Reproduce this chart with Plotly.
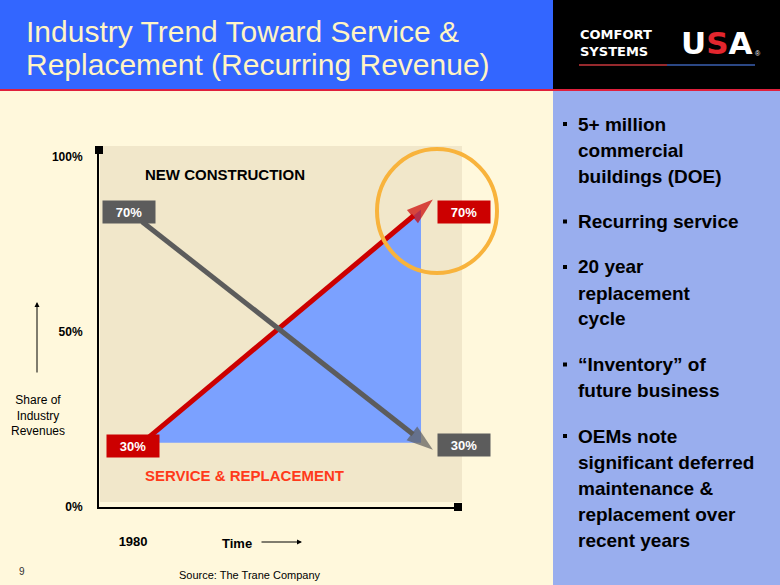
import plotly.graph_objects as go

W, H = 780, 585

# schematic time axis (arbitrary units); shares
time = [1.2, 9.3]
service_share = [18.3, 87.7]
construction_share = [81.4, 16.3]
service_area_x = [1.2, 8.97, 8.97]
service_area_y = [18.3, 84.9, 18.3]

# figures printed in the boxes
service_labels = ["30%", "70%"]
construction_labels = ["70%", "30%"]

y_ticks = [0, 50, 100]
y_tick_text = ["0%", "50%", "100%"]
x_ticks = [1.2]
x_tick_text = ["1980"]

bullets = [
    ["5+ million", "commercial", "buildings (DOE)"],
    ["Recurring service"],
    ["20 year", "replacement", "cycle"],
    ["\u201cInventory\u201d of", "future business"],
    ["OEMs note", "significant deferred", "maintenance &", "replacement over", "recent years"],
]

FONT = "Liberation Sans, Arial, sans-serif"
RED = "#CC0000"
GREY = "#5C5C5C"


def px(x):
    return x / W


def py(y):
    return 1 - y / H


fig = go.Figure()
fig.add_trace(go.Scatter(x=service_area_x + service_area_x[:1], y=service_area_y + service_area_y[:1],
                         mode="lines", fill="toself", fillcolor="#7BA1FF", line=dict(width=0),
                         hoverinfo="skip"))
fig.add_trace(go.Scatter(x=time, y=service_share, mode="lines+markers",
                         line=dict(color=RED, width=5),
                         marker=dict(symbol="arrow", size=[0, 28], angleref="previous", color=RED,
                                     line_width=0)))
fig.add_trace(go.Scatter(x=time, y=construction_share, mode="lines+markers",
                         line=dict(color=GREY, width=5),
                         marker=dict(symbol="arrow", size=[0, 28], angleref="previous", color=GREY,
                                     line_width=0)))

shapes = [
    # title bar, logo block, red rule, right panel, chart background
    dict(type="rect", x0=0, x1=px(553), y0=py(89), y1=1, fillcolor="#3366FF", line_width=0, layer="below"),
    dict(type="rect", x0=px(553), x1=1, y0=py(89), y1=1, fillcolor="black", line_width=0, layer="below"),
    dict(type="rect", x0=px(553), x1=1, y0=0, y1=py(91), fillcolor="#99AEEE", line_width=0, layer="below"),
    dict(type="line", x0=0, x1=1, y0=py(90), y1=py(90), line=dict(color="#E0203C", width=2), layer="below"),
    dict(type="rect", x0=px(100), x1=px(462), y0=py(502), y1=py(146), fillcolor="#F1E7CA", line_width=0,
         layer="below"),
    # axis end squares
    dict(type="rect", x0=px(95), x1=px(103), y0=py(154), y1=py(146), fillcolor="black", line_width=0),
    dict(type="rect", x0=px(454), x1=px(462), y0=py(511), y1=py(503), fillcolor="black", line_width=0),
    # highlight circle
    dict(type="circle", x0=px(377), x1=px(497), y0=py(273), y1=py(149), line=dict(color="#F8B33C", width=4)),
    # logo rule
    dict(type="line", x0=px(579), x1=px(667), y0=py(65), y1=py(65), line=dict(color="#C8373C", width=1.5)),
    dict(type="line", x0=px(667), x1=px(755), y0=py(65), y1=py(65), line=dict(color="#3A5FB0", width=1.5)),
]

ann = [
    dict(x=px(24), y=py(31), text="Industry Trend Toward Service &", xanchor="left", yanchor="middle",
         font=dict(size=30, color="#FFF4C4")),
    dict(x=px(24), y=py(64), text="Replacement (Recurring Revenue)", xanchor="left", yanchor="middle",
         font=dict(size=30, color="#FFF4C4")),
    dict(x=px(578), y=py(43), text="COMFORT<br>SYSTEMS", xanchor="left", yanchor="middle", align="left",
         font=dict(family="DejaVu Sans", size=13, weight="bold", color="white")),
    dict(x=px(717), y=py(43), text="U<span style='color:#E3262E'>S</span>A", xanchor="center", yanchor="middle",
         font=dict(family="DejaVu Sans", size=31, weight="bold", color="white")),
    dict(x=px(758), y=py(53), text="\u00ae", xanchor="center", yanchor="middle",
         font=dict(size=7, color="white")),
    dict(x=px(143), y=py(174), text="NEW CONSTRUCTION", xanchor="left", yanchor="middle",
         font=dict(size=15, weight="bold", color="black")),
    dict(x=px(143), y=py(475), text="SERVICE & REPLACEMENT", xanchor="left", yanchor="middle",
         font=dict(size=15, weight="bold", color="#FF3A1A")),
    dict(x=px(38), y=py(415), text="Share of<br>Industry<br>Revenues", xanchor="center", yanchor="middle",
         font=dict(size=12, color="black")),
    dict(x=px(37), y=py(302), ax=0, ay=72, text="", showarrow=True, arrowhead=2, arrowwidth=1,
         arrowsize=1, arrowcolor="black"),
    dict(x=px(237), y=py(543), text="Time", xanchor="center", yanchor="middle",
         font=dict(size=13, weight="bold", color="black")),
    dict(x=px(302), y=py(542), ax=-42, ay=0, text="", showarrow=True, arrowhead=2, arrowwidth=1,
         arrowsize=1, arrowcolor="black"),
    dict(x=px(250), y=py(575), text="Source: The Trane Company", xanchor="center", yanchor="middle",
         font=dict(size=11, color="black")),
    dict(x=px(22), y=py(571), text="9", xanchor="center", yanchor="middle",
         font=dict(size=10, color="#333333")),
]
for a in ann:
    a.setdefault("xref", "paper")
    a.setdefault("yref", "paper")
    a.setdefault("showarrow", False)

# value boxes at both ends of each line
box = dict(xref="x", yref="y", showarrow=False, width=48, height=18, borderpad=2,
           font=dict(size=13, weight="bold", color="white"))
ann += [
    dict(box, x=time[0], y=service_share[0], text=service_labels[0], bgcolor=RED, xshift=-9, yshift=-3),
    dict(box, x=time[-1], y=service_share[-1], text=service_labels[-1], bgcolor=RED, xshift=31, yshift=-12),
    dict(box, x=time[0], y=construction_share[0], text=construction_labels[0], bgcolor=GREY, xshift=-13,
         yshift=10),
    dict(box, x=time[-1], y=construction_share[-1], text=construction_labels[-1], bgcolor=GREY, xshift=31,
         yshift=5),
]

# right-hand bullet list
y = 124
for group in bullets:
    shapes.append(dict(type="rect", x0=px(563), x1=px(567), y0=py(y + 2), y1=py(y - 2),
                       fillcolor="black", line_width=0))
    for line in group:
        ann.append(dict(xref="paper", yref="paper", x=px(576), y=py(y), text=line, xanchor="left",
                        yanchor="middle", showarrow=False, font=dict(size=19, weight="bold", color="black")))
        y += 26
    y += 19.5

for s in shapes:
    s["xref"] = "paper"
    s["yref"] = "paper"

fig.update_layout(
    width=W, height=H, margin=dict(l=0, r=0, t=0, b=0), autosize=False,
    paper_bgcolor="#FFF8DC", plot_bgcolor="rgba(0,0,0,0)", showlegend=False,
    font=dict(family=FONT, color="black"),
    shapes=shapes, annotations=ann,
    xaxis=dict(domain=[px(99), px(458)], range=[0, 10], showgrid=False, zeroline=False, showline=True,
               linecolor="black", linewidth=2, ticks="", tickvals=x_ticks, ticktext=x_tick_text,
               tickfont=dict(size=13, weight="bold", color="black"), ticklabelstandoff=21,
               ticklabelshift=-9, automargin=False),
    yaxis=dict(domain=[py(507), py(146)], range=[0, 103], showgrid=False, zeroline=False, showline=True,
               linecolor="black", linewidth=2, ticks="", tickvals=y_ticks, ticktext=y_tick_text,
               tickfont=dict(size=12, weight="bold", color="black"), ticklabelstandoff=12,
               automargin=False),
)

fig.write_html("out.html", config={"displayModeBar": False},
               post_script="document.body.style.margin='0';")
